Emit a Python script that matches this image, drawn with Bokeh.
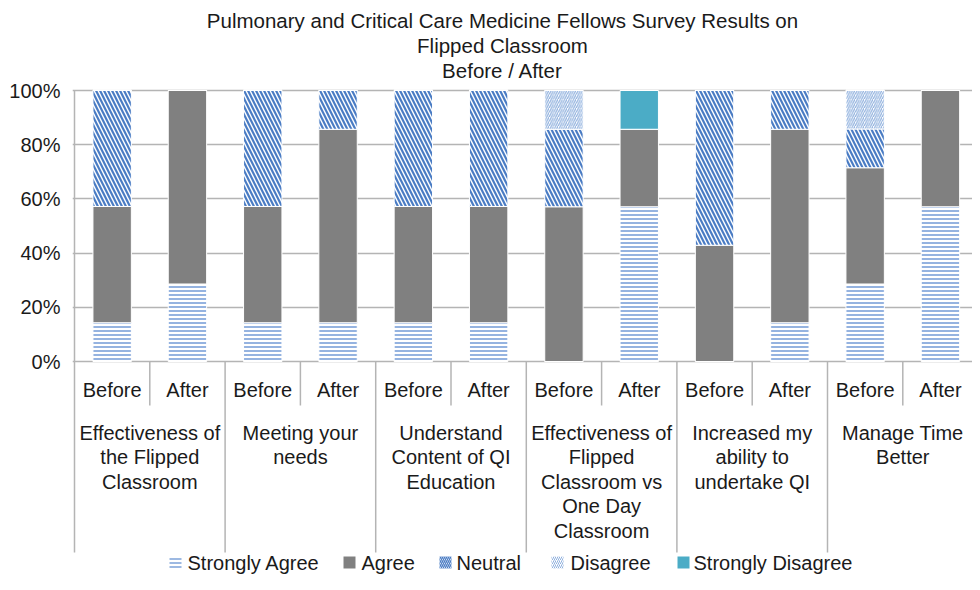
from bokeh.plotting import figure
from bokeh.models import Range1d, FixedTicker, PrintfTickFormatter, ColumnDataSource
from bokeh.embed import file_html
from bokeh.resources import INLINE
from bokeh.core.properties import value

# ---------------- data ----------------
title_lines = ["Pulmonary and Critical Care Medicine Fellows Survey Results on",
               "Flipped Classroom", "Before / After"]
groups = ["Effectiveness of\nthe Flipped\nClassroom",
          "Meeting your\nneeds",
          "Understand\nContent of QI\nEducation",
          "Effectiveness of\nFlipped\nClassroom vs\nOne Day\nClassroom",
          "Increased my\nability to\nundertake QI",
          "Manage Time\nBetter"]
phases = ["Before", "After"]
series = ["Strongly Agree", "Agree", "Neutral", "Disagree", "Strongly Disagree"]
strongly_agree    = [14.3, 28.6, 14.3, 14.3, 14.3, 14.3, 0.0, 57.1, 0.0, 14.3, 28.6, 57.1]
agree             = [42.9, 71.4, 42.9, 71.4, 42.9, 42.9, 57.1, 28.6, 42.9, 71.4, 42.9, 42.9]
neutral           = [42.9, 0.0, 42.9, 14.3, 42.9, 42.9, 28.6, 0.0, 57.1, 14.3, 14.3, 0.0]
disagree          = [0.0, 0.0, 0.0, 0.0, 0.0, 0.0, 14.3, 0.0, 0.0, 0.0, 14.3, 0.0]
strongly_disagree = [0.0, 0.0, 0.0, 0.0, 0.0, 0.0, 0.0, 14.3, 0.0, 0.0, 0.0, 0.0]
y_ticks = [0, 20, 40, 60, 80, 100]

# ---------------- layout helpers (picture px -> data) ----------------
X0, SLOT, Y0, PPU = 74.0, 75.3, 361.0, 2.71
def dx(px): return (px - X0) / SLOT
def dy(py): return (Y0 - py) / PPU

W, H, LEFT = 972, 574, 72
FONT = "Liberation Sans"
TXT = "#1a1a1a"

n = len(groups) * len(phases)
xs = [i + 0.5 for i in range(n)]
src = ColumnDataSource(dict(x=xs, **{
    series[0]: strongly_agree, series[1]: agree, series[2]: neutral,
    series[3]: disagree, series[4]: strongly_disagree}))

fills = ["white", "#808080", "white", "white", "#4bacc6"]
hatches = ["-", None, "\\", "/", None]
hcolors = ["#5a89cf", "#808080", "#4a7cc4", "#8fb0de", "#4bacc6"]
hscales = [4.0, 4.0, 8.0, 4.5, 4.0]
hweights = [1.3, 1.0, 2.2, 1.2, 1.0]

p = figure(width=W, height=H, output_backend="svg", toolbar_location=None,
           x_range=Range1d(dx(LEFT), dx(W)), y_range=Range1d(dy(H), dy(0)),
           x_axis_location=None, min_border_left=LEFT, min_border_right=0,
           min_border_top=0, min_border_bottom=0)
p.outline_line_color = None
p.xgrid.visible = False
p.ygrid.ticker = FixedTicker(ticks=y_ticks)
p.ygrid.grid_line_color = "#b4b4b4"
p.ygrid.grid_line_width = 1.5

ax = p.yaxis[0]
ax.ticker = FixedTicker(ticks=y_ticks)
ax.formatter = PrintfTickFormatter(format="%d%%")
ax.axis_line_color = None
ax.major_tick_line_color = None
ax.minor_tick_line_color = None
ax.major_tick_out = 0
ax.major_tick_in = 0
ax.major_label_standoff = 12
ax.major_label_text_font = FONT
ax.major_label_text_font_size = "20px"
ax.major_label_text_color = TXT

p.vbar_stack(series, x="x", width=0.51, source=src,
             fill_color=fills, line_color="white", line_width=1,
             hatch_pattern=hatches, hatch_color=hcolors,
             hatch_scale=hscales, hatch_weight=hweights)

# category separators
long_x = [2 * g for g in range(len(groups) + 1)]
p.segment(x0=long_x, y0=[100] + [0] * (len(long_x) - 1), x1=long_x,
          y1=[dy(552)] * len(long_x), line_color="#b4b4b4", line_width=1.5)
short_x = [2 * g + 1 for g in range(len(groups))]
p.segment(x0=short_x, y0=[0] * len(short_x), x1=short_x,
          y1=[dy(405)] * len(short_x), line_color="#b4b4b4", line_width=1.5)

# Before / After labels
p.text(x=xs, y=[dy(389)] * n, text=[phases[i % 2] for i in range(n)],
       text_align="center", text_baseline="middle", text_font=value(FONT),
       text_font_size="20px", text_color=TXT)

# group labels
gx, gy, gt = [], [], []
for g, lab in enumerate(groups):
    for k, line in enumerate(lab.split("\n")):
        gx.append(2 * g + 1)
        gy.append(dy(432 + 24.6 * k))
        gt.append(line)
p.text(x=gx, y=gy, text=gt, text_align="center", text_baseline="middle",
       text_font=value(FONT), text_font_size="20px", text_color=TXT)

# title
p.text(x=[dx(502)] * 3, y=[dy(20), dy(45), dy(70)], text=title_lines,
       text_align="center", text_baseline="middle", text_font=value(FONT),
       text_font_size="20.5px", text_color=TXT)

# legend
leg_icon_px = [175, 349, 445, 557, 683]
leg_text_px = [187, 361, 456, 570, 693]
leg_w = [1.2, 1.0, 1.4, 1.0, 1.0]
LY = dy(562)
for i, s in enumerate(series):
    p.rect(x=[dx(leg_icon_px[i])], y=[LY], width=12, height=12,
           width_units="screen", height_units="screen",
           fill_color=fills[i], line_color=None, hatch_pattern=hatches[i],
           hatch_color=hcolors[i], hatch_scale=4.0, hatch_weight=leg_w[i])
p.text(x=[dx(v) for v in leg_text_px], y=[LY] * len(series), text=series,
       text_align="left", text_baseline="middle", text_font=value(FONT),
       text_font_size="20px", text_color=TXT)

open("out.html", "w").write(file_html(p, INLINE))
